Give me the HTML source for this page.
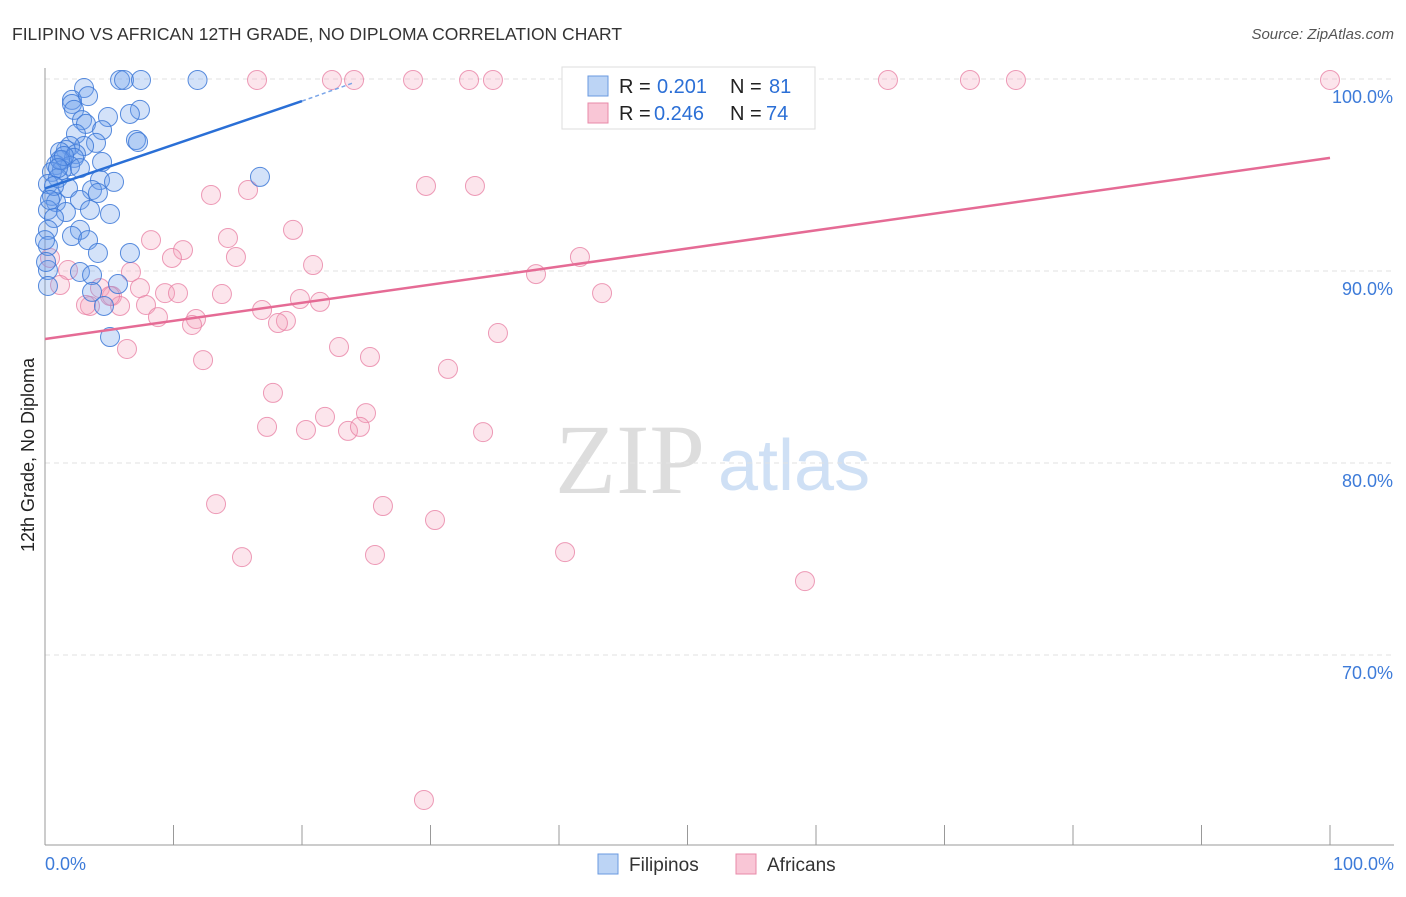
<!DOCTYPE html>
<html><head><meta charset="utf-8"><style>
body{margin:0;background:#fff;font-family:"Liberation Sans",sans-serif}
svg text{font-family:"Liberation Sans",sans-serif}
</style></head><body>
<svg id="chart" width="1406" height="892" viewBox="0 0 1406 892">
<text x="12" y="40" font-size="17.5" fill="#333">FILIPINO VS AFRICAN 12TH GRADE, NO DIPLOMA CORRELATION CHART</text>
<text x="1394" y="39" font-size="15" fill="#555" font-style="italic" text-anchor="end">Source: ZipAtlas.com</text>
<text x="555" y="493" font-size="100" fill="#ddd" font-family="Liberation Serif" style="font-family:'Liberation Serif',serif">ZIP</text>
<text x="718" y="490" font-size="72" fill="#cfe0f5">atlas</text>
<g id="grid"></g><g id="axes"></g><g id="pts"></g><g id="trend"></g>
<text transform="translate(34,455) rotate(-90)" font-size="18" fill="#222" text-anchor="middle">12th Grade, No Diploma</text>
<g>
<rect x="562" y="67" width="253" height="62" fill="#fff" stroke="#ddd"/>
<rect x="588" y="76" width="20" height="20" fill="#bcd4f5" stroke="#6a9ae0"/>
<rect x="588" y="103" width="20" height="20" fill="#f9c6d6" stroke="#e88aa8"/>
<text x="619" y="93" font-size="20" fill="#222">R =</text><text x="657" y="93" font-size="20" fill="#2b6fd6">0.201</text>
<text x="730" y="93" font-size="20" fill="#222">N =</text><text x="769" y="93" font-size="20" fill="#2b6fd6">81</text>
<text x="619" y="120" font-size="20" fill="#222">R =</text><text x="654" y="120" font-size="20" fill="#2b6fd6">0.246</text>
<text x="730" y="120" font-size="20" fill="#222">N =</text><text x="766" y="120" font-size="20" fill="#2b6fd6">74</text>
</g>
<g>
<rect x="598" y="854" width="20" height="20" fill="#bcd4f5" stroke="#6a9ae0"/>
<text x="629" y="871" font-size="19" fill="#333">Filipinos</text>
<rect x="736" y="854" width="20" height="20" fill="#f9c6d6" stroke="#e88aa8"/>
<text x="767" y="871" font-size="19" fill="#333">Africans</text>
</g>
</svg>
<script>
const yTicks=[100,90,80,70];
const yTickLabels=["100.0%","90.0%","80.0%","70.0%"];
const xTickLabels=["0.0%","100.0%"];
const blueX=[5.84,6.15,7.47,11.87,3.04,2.10,3.35,2.10,2.26,7.39,6.61,4.90,2.88,3.19,2.41,4.44,7.08,7.24,3.97,3.04,1.95,1.63,1.17,2.41,1.32,2.26,4.44,0.86,1.95,1.32,2.72,0.54,1.01,4.28,5.37,16.73,0.23,1.79,3.66,4.12,0.54,0.86,2.72,0.23,1.63,3.50,5.06,0.70,2.72,0.23,2.10,3.35,0.23,4.12,6.61,0.23,2.72,3.66,0.23,5.68,3.66,4.59,5.06,1.17,1.48,1.01,0.70,0.39,0,0.08];
const blueY=[99.95,99.95,99.95,99.95,99.53,98.91,99.11,98.70,98.39,98.39,98.18,98.02,97.86,97.66,97.14,97.34,96.82,96.72,96.67,96.51,96.51,96.30,96.20,96.09,95.78,95.89,95.68,95.52,95.47,95.26,95.36,95.16,94.84,94.74,94.64,94.90,94.53,94.32,94.22,94.06,93.91,93.59,93.70,93.18,93.07,93.18,92.97,92.76,92.14,92.14,91.82,91.61,91.30,90.94,90.94,90.05,89.95,89.79,89.22,89.32,88.91,88.18,86.56,95.78,95.99,95.36,94.43,93.70,91.61,90.47];
const pinkX=[16.5,22.33,24.05,28.64,33.0,34.86,42.41,52.37,65.6,71.98,75.56,100,55.49,12.92,15.8,29.65,33.46,19.3,8.25,14.24,10.74,14.86,9.88,20.86,41.63,38.21,6.69,1.79,0.39,1.17,4.28,7.39,5.21,9.34,10.35,13.77,43.35,3.5,5.84,7.86,19.84,21.4,16.89,8.79,11.75,11.44,18.75,18.13,35.25,6.38,22.88,25.29,12.3,31.36,17.74,21.79,24.98,17.28,20.31,23.58,24.51,34.09,13.31,26.3,30.35,15.33,25.68,40.47,59.14,29.49,3.19,5.06];
const pinkY=[99.95,99.95,99.95,99.95,99.95,99.95,99.95,99.95,99.95,99.95,99.95,99.95,99.06,93.96,94.22,94.43,94.43,92.14,91.61,91.72,91.09,90.73,90.68,90.31,90.73,89.84,89.95,90.05,90.68,89.27,89.11,89.11,88.70,88.85,88.85,88.80,88.85,88.18,88.18,88.23,88.54,88.39,87.97,87.60,87.50,87.19,87.40,87.29,86.77,85.94,86.04,85.52,85.36,84.90,83.65,82.40,82.60,81.88,81.72,81.67,81.88,81.61,77.86,77.76,77.03,75.10,75.21,75.36,73.85,62.45,88.23,88.70];
const blueTrend=[94.3,98.85,99.8]; // at x=0,20,24
const pinkTrend=[86.46,95.89]; // at x=0,100
const X=v=>45+v*12.85, Y=v=>79+(100-v)*19.2;
const NS="http://www.w3.org/2000/svg";
function mk(p,t,a){const e=document.createElementNS(NS,t);for(const k in a)e.setAttribute(k,a[k]);p.appendChild(e);return e;}
const grid=document.getElementById('grid'),axes=document.getElementById('axes'),pts=document.getElementById('pts'),tr=document.getElementById('trend');
yTicks.forEach((t,i)=>{
 const l=mk(grid,'line',{x1:45,x2:1394,y1:Y(t),y2:Y(t),stroke:'#e2e2e2','stroke-dasharray':'5,4'});
 
 
 const tx=mk(axes,'text',{x:1393,y:Y(t)+24,'font-size':18,fill:'#3d7bd9','text-anchor':'end'});
 tx.textContent=yTickLabels[i];
 
 
});
const ya=mk(axes,'line',{x1:45,x2:45,y1:68,y2:845,stroke:'#999'});


const xa=mk(axes,'line',{x1:45,x2:1394,y1:845,y2:845,stroke:'#999'});


for(let i=0;i<=10;i++){const t=mk(axes,'line',{x1:X(i*10),x2:X(i*10),y1:825,y2:845,stroke:'#999'});
 
 }
[[0,'start',45],[100,'end',1394]].forEach((d,i)=>{const t=mk(axes,'text',{x:d[2],y:870,'font-size':18,fill:'#3d7bd9','text-anchor':d[1]});t.textContent=xTickLabels[i];
 
 });
pinkX.forEach((x,i)=>{const c=mk(pts,'circle',{cx:X(x),cy:Y(pinkY[i]),r:9.5,fill:'rgba(244,160,188,0.28)',stroke:'rgba(232,130,165,0.8)','stroke-width':1});
 
 });
blueX.forEach((x,i)=>{const c=mk(pts,'circle',{cx:X(x),cy:Y(blueY[i]),r:9.5,fill:'rgba(110,160,235,0.3)',stroke:'rgba(60,120,215,0.85)','stroke-width':1});
 
 });
const b1=mk(tr,'line',{x1:X(0),y1:Y(blueTrend[0]),x2:X(20),y2:Y(blueTrend[1]),stroke:'#2a6fd6','stroke-width':2.5});


const b2=mk(tr,'line',{x1:X(20),y1:Y(blueTrend[1]),x2:X(24),y2:Y(blueTrend[2]),stroke:'#7aa5e8','stroke-width':1.5,'stroke-dasharray':'4,3'});


const p1=mk(tr,'line',{x1:X(0),y1:Y(pinkTrend[0]),x2:X(100),y2:Y(pinkTrend[1]),stroke:'#e56b95','stroke-width':2.5});


</script>
</body></html>
